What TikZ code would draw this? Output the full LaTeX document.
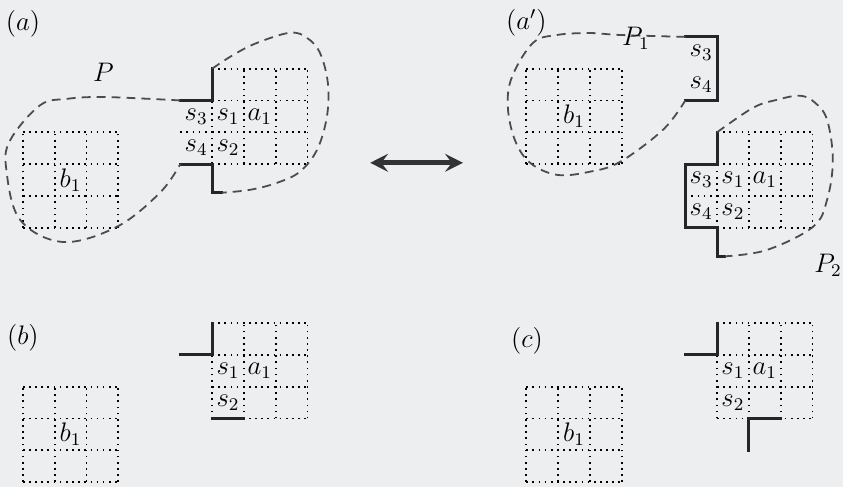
\documentclass[tikz,border=0pt]{standalone}
\usetikzlibrary{arrows.meta}
\definecolor{paper}{RGB}{236,238,239}

\begin{document}
\begin{tikzpicture}[
    x=.5cm,y=.5cm,
    every node/.style={font=\large},
    cellgrid/.style={dotted,line width=.75pt},
    cut/.style={line width=1.3pt,black!85,line cap=rect},
    region/.style={dash pattern=on 4pt off 2.7pt,line width=.8pt,black!70},
    >={Stealth[length=8pt,width=8pt,inset=3pt]},
    cells/.pic={
        \foreach \k in {0,...,3}{
            \draw[cellgrid] (\k,0) -- (\k,3) (0,\k) -- (3,\k);
        }
    },
]
    \fill[paper] (0,0) rectangle (26.51,15.31);
    \useasboundingbox (0,0) rectangle (26.51,15.31);

    % (a)
    \pic at (0.72,8.15) {cells};
    \pic at (6.67,10.15) {cells};
    \draw[cellgrid] (5.67,11.15) -- (6.67,11.15);
    \draw[cut] (5.67,12.15) -- (6.67,12.15) -- (6.67,13.15);
    \draw[cut] (5.67,10.15) -- (6.67,10.15) -- (6.67,9.25) -- (6.98,9.25);
    \draw[region] plot[smooth,tension=.6] coordinates {
        (5.67,12.15) (4.72,12.2) (3.14,12.26) (2.1,12.2) (1.26,12.0)
        (0.32,10.9) (0.2,9.97) (0.63,8.4) (1.98,7.7) (3.68,8.18)
        (5.03,9.25) (5.67,10.15)};
    \draw[region] plot[smooth,tension=.6] coordinates {
        (6.67,13.15) (7.33,13.58) (8.08,13.96) (9.12,14.28) (9.65,14.12)
        (10.06,13.65) (10.31,12.7) (10.28,11.64) (9.97,10.6) (9.43,9.91)
        (8.71,9.56) (7.86,9.34) (6.98,9.25)};
    \node (la) at (0.72,14.55) {$(a)$};
    \node (P) at (3.25,13.05) {$P$};
    \node (a-b1) at (2.22,9.65) {$b_1$};
    \node (a-s3) at (6.17,11.65) {$s_3$};
    \node (a-s1) at (7.17,11.65) {$s_1$};
    \node (a-a1) at (8.17,11.65) {$a_1$};
    \node (a-s4) at (6.17,10.65) {$s_4$};
    \node (a-s2) at (7.17,10.65) {$s_2$};

    \coordinate (swapL) at (11.64,10.19);
    \coordinate (swapR) at (14.56,10.19);
    \draw[<->,line width=2.4pt,black!80] (swapL) -- (swapR);

    % (a')
    \pic at (16.55,10.15) {cells};
    \pic at (22.55,8.15) {cells};
    \draw[cellgrid] (21.55,9.15) -- (22.55,9.15);
    \draw[cut] (21.55,14.15) -- (22.55,14.15) -- (22.55,12.15) -- (21.55,12.15);
    \draw[cut] (22.55,11.15) -- (22.55,10.15) -- (21.55,10.15)
        -- (21.55,8.15) -- (22.55,8.15) -- (22.55,7.25) -- (22.8,7.25);
    \draw[region] plot[smooth,tension=.6] coordinates {
        (21.55,14.15) (19.5,14.21) (18.55,14.27) (17.52,14.21) (16.76,13.96)
        (16.1,12.89) (15.97,11.95) (16.19,10.91) (16.67,10.19) (17.52,9.81)
        (18.55,9.91) (19.5,10.22) (20.85,11.23) (21.55,12.15)};
    \draw[region] plot[smooth,tension=.6] coordinates {
        (22.55,11.15) (23.68,11.92) (24.43,12.17) (25.16,12.3) (25.63,12.08)
        (26.01,11.54) (26.19,10.28) (26.01,9.03) (25.57,8.18) (24.12,7.45)
        (22.8,7.25)};
    \node (la') at (16.55,14.6) {$(a')$};
    \node (P1) at (20.0,14.1) {$P_1$};
    \node (P2) at (26.04,6.98) {$P_2$};
    \node (a'-b1) at (18.05,11.65) {$b_1$};
    \node (a'-t3) at (22.05,13.65) {$s_3$};
    \node (a'-t4) at (22.05,12.65) {$s_4$};
    \node (a'-s3) at (22.05,9.65) {$s_3$};
    \node (a'-s1) at (23.05,9.65) {$s_1$};
    \node (a'-a1) at (24.05,9.65) {$a_1$};
    \node (a'-s4) at (22.05,8.65) {$s_4$};
    \node (a'-s2) at (23.05,8.65) {$s_2$};

    % (b)
    \pic at (0.72,0.15) {cells};
    \pic at (6.67,2.15) {cells};
    \draw[cut] (5.67,4.15) -- (6.67,4.15) -- (6.67,5.15);
    \draw[cut] (6.67,2.15) -- (7.67,2.15);
    \node (lb) at (0.72,4.7) {$(b)$};
    \node (b-b1) at (2.22,1.65) {$b_1$};
    \node (b-s1) at (7.17,3.65) {$s_1$};
    \node (b-a1) at (8.17,3.65) {$a_1$};
    \node (b-s2) at (7.17,2.65) {$s_2$};

    % (c)
    \pic at (16.55,0.15) {cells};
    \pic at (22.55,2.15) {cells};
    \draw[cut] (21.55,4.15) -- (22.55,4.15) -- (22.55,5.15);
    \draw[cut] (23.55,1.15) -- (23.55,2.15) -- (24.55,2.15);
    \node (lc) at (16.57,4.6) {$(c)$};
    \node (c-b1) at (18.05,1.65) {$b_1$};
    \node (c-s1) at (23.05,3.65) {$s_1$};
    \node (c-a1) at (24.05,3.65) {$a_1$};
    \node (c-s2) at (23.05,2.65) {$s_2$};
\end{tikzpicture}
\end{document}
